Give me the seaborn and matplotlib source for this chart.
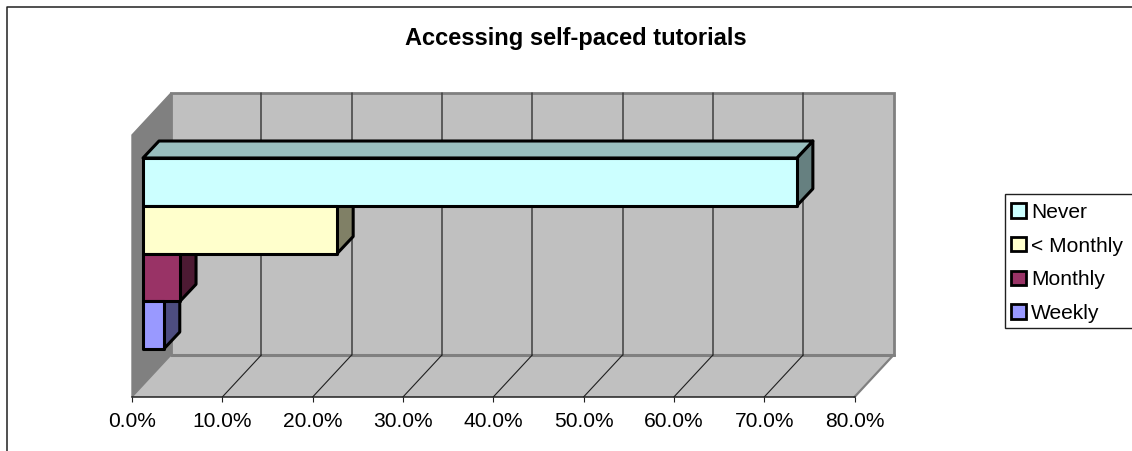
import matplotlib
matplotlib.use("Agg")
import matplotlib.pyplot as plt
import seaborn as sns
import pandas as pd
from matplotlib.patches import Patch, Polygon, Rectangle
from matplotlib.lines import Line2D
from matplotlib.colors import to_rgb

title = "Accessing self-paced tutorials"
categories = ["Never", "< Monthly", "Monthly", "Weekly"]
shares = [72.4, 21.5, 4.1, 2.3]
colors = ["#CCFFFF", "#FFFFCC", "#993366", "#9999FF"]
ticks = [0, 10, 20, 30, 40, 50, 60, 70, 80]
tick_labels = ["0.0%", "10.0%", "20.0%", "30.0%", "40.0%", "50.0%", "60.0%", "70.0%", "80.0%"]

W, H = 1132, 451
sns.set_theme(style="white")
plt.rcParams["font.family"] = ["Liberation Sans", "DejaVu Sans"]
FS = 15.1


def box(x0, y_top, x1, y_bot):
    return [x0 / W, 1 - y_bot / H, (x1 - x0) / W, (y_bot - y_top) / H]


def shade(c, f):
    return tuple(v * f for v in to_rgb(c))


fig = plt.figure(figsize=(W / 100, H / 100), dpi=100, facecolor="white")

# Outer chart frame (right and bottom edges fall outside the picture)
fig.add_artist(Line2D([6.5 / W, 6.5 / W, 1], [0, 1 - 6.5 / H, 1 - 6.5 / H],
                      color="#202020", lw=1.1, transform=fig.transFigure))

# Chart box: floor front edge, walls
wall = fig.add_axes(box(132, 135, 854.5, 397), zorder=1)
wall.set_xlim(0, 80)
wall.set_ylim(0, 1)
wall.patch.set_visible(False)
for s in ["left", "right", "top"]:
    wall.spines[s].set_visible(False)
wall.spines["bottom"].set_color("#202020")
wall.spines["bottom"].set_linewidth(1.1)
dx, dy = 39 / 9.03, 42 / 262
grey, dark, edge = "#C0C0C0", "#808080", "#808080"
kw = dict(clip_on=False, joinstyle="miter")
wall.add_patch(Polygon([(dx, dy), (80 + dx, dy), (80 + dx, 1 + dy), (dx, 1 + dy)],
                       fc=grey, ec=edge, lw=2, zorder=1, **kw))
wall.add_patch(Polygon([(0, 0), (dx, dy), (dx, 1 + dy), (0, 1)],
                       fc=dark, ec=edge, lw=1, zorder=1.2, **kw))
wall.add_patch(Polygon([(0, 0), (80, 0), (80 + dx, dy), (dx, dy)],
                       fc=grey, ec="none", zorder=1.1, **kw))
wall.plot([80, 80 + dx], [0, dy], color=edge, lw=1.6, zorder=1.3, clip_on=False)
wall.plot([dx, 80 + dx], [dy, dy], color=edge, lw=2.2, zorder=1.3, clip_on=False)
for t in ticks[1:-1]:
    wall.plot([t + dx, t + dx], [dy, 1 + dy], color="#404040", lw=1.1, zorder=1.5, clip_on=False)
    wall.plot([t, t + dx], [0, dy], color="#202020", lw=0.8, zorder=1.5, clip_on=False)
wall.set_xticks(ticks)
wall.set_xticklabels(tick_labels, fontsize=FS, color="black")
wall.set_yticks([])
wall.tick_params(axis="x", bottom=True, length=3.6, width=0.8, color="#202020", pad=7)

# Bars, on the plane set back from the floor's front edge
ax = fig.add_axes(box(143, 158, 865.5, 349), zorder=2)
df = pd.DataFrame({"category": categories, "share": shares})
sns.barplot(data=df, x="share", y="category", hue="category", hue_order=categories,
            order=categories, palette=colors, width=1.0, dodge=False, legend=False,
            edgecolor="black", linewidth=2.2, saturation=1, ax=ax)
ax.set_xlim(0, 80)
ax.set_ylim(3.5, -0.5)
ax.axis("off")
for p in ax.patches:
    p.set_zorder(3)
    p.set_clip_on(False)
    p.set_joinstyle("round")

bx, by = 16 / 9.03, 17 / 47.75
fk = dict(clip_on=False, joinstyle="round")
for i, (v, c) in enumerate(zip(shares, colors)):
    ax.add_patch(Polygon([(v, i - 0.5), (v + bx, i - 0.5 - by), (v + bx, i + 0.5 - by), (v, i + 0.5)],
                         fc=shade(c, 0.5), ec="black", lw=2.2, zorder=2, **fk))
ax.add_patch(Polygon([(0, -0.5), (shares[0], -0.5), (shares[0] + bx, -0.5 - by), (bx, -0.5 - by)],
                     fc=shade(colors[0], 0.75), ec="black", lw=2.2, zorder=2.5, **fk))

# Title and legend
fig.text(575.5 / W, 1 - 39 / H, title, ha="center", va="center",
         fontsize=17.05, fontweight="bold", color="black")
fig.add_artist(Rectangle((1004.5 / W, 1 - 328 / H), 140 / W, 134 / H, transform=fig.transFigure,
                         fc="white", ec="#202020", lw=1, clip_on=True))
handles = [Patch(facecolor=c, edgecolor="black", linewidth=2, label=n) for n, c in zip(categories, colors)]
leg = fig.legend(handles=handles, loc="upper left",
                 bbox_to_anchor=(1004.5 / W, 1 - 196 / H),
                 bbox_transform=fig.transFigure, fontsize=FS, frameon=False,
                 handlelength=0.68, handleheight=0.68,
                 handletextpad=0.27, borderpad=0.33, labelspacing=0.70, borderaxespad=0)
for t in leg.get_texts():
    t.set_color("black")

fig.savefig("out.png", dpi=100)
